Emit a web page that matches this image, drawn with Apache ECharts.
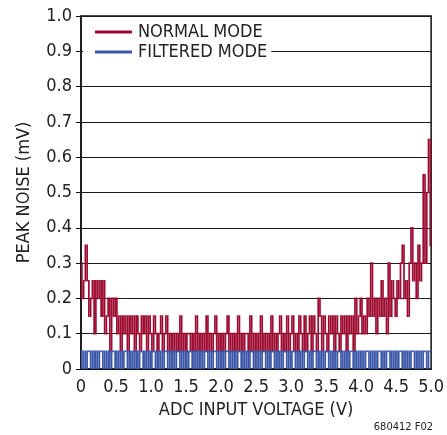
<!DOCTYPE html>
<html>
<head>
<meta charset="utf-8">
<script src="https://cdn.jsdelivr.net/npm/echarts@6/dist/echarts.min.js"></script>
<style>
  html, body { margin: 0; padding: 0; background: #fff; }
  #chart { width: 447px; height: 435px; }
</style>
</head>
<body>
<div id="chart"></div>
<script>
// sweep: 0 to 5 V, one reading every 0.025 V
const stepV = 0.025;

// peak noise, normal mode (mV)
const normalMode = [
  0.3, 0.2, 0.25, 0.35, 0.25, 0.15, 0.2, 0.25, 0.1, 0.25,
  0.2, 0.25, 0.15, 0.25, 0.1, 0.15, 0.2, 0.05, 0.2, 0.15,
  0.2, 0.1, 0.15, 0.05, 0.15, 0.1, 0.15, 0.05, 0.15, 0.1,
  0.15, 0.05, 0.15, 0.1, 0.05, 0.15, 0.1, 0.15, 0.05, 0.15,
  0.1, 0.05, 0.15, 0.1, 0.05, 0.1, 0.15, 0.05, 0.1, 0.15,
  0.05, 0.1, 0.05, 0.1, 0.05, 0.1, 0.05, 0.15, 0.05, 0.1,
  0.05, 0.1, 0.1, 0.05, 0.1, 0.05, 0.15, 0.05, 0.1, 0.05,
  0.1, 0.05, 0.15, 0.05, 0.1, 0.05, 0.1, 0.15, 0.05, 0.1,
  0.05, 0.1, 0.05, 0.1, 0.15, 0.05, 0.1, 0.05, 0.1, 0.05,
  0.15, 0.05, 0.1, 0.05, 0.1, 0.1, 0.05, 0.15, 0.05, 0.1,
  0.05, 0.1, 0.05, 0.15, 0.05, 0.1, 0.05, 0.1, 0.05, 0.15,
  0.05, 0.1, 0.05, 0.1, 0.15, 0.05, 0.1, 0.05, 0.15, 0.05,
  0.1, 0.15, 0.05, 0.1, 0.05, 0.15, 0.1, 0.05, 0.15, 0.05,
  0.1, 0.15, 0.05, 0.15, 0.1, 0.05, 0.2, 0.15, 0.05, 0.15,
  0.1, 0.05, 0.15, 0.1, 0.15, 0.05, 0.15, 0.1, 0.05, 0.15,
  0.1, 0.15, 0.05, 0.15, 0.1, 0.15, 0.05, 0.2, 0.1, 0.15,
  0.2, 0.1, 0.15, 0.1, 0.2, 0.15, 0.3, 0.15, 0.2, 0.1,
  0.2, 0.15, 0.25, 0.15, 0.2, 0.1, 0.3, 0.15, 0.25, 0.2,
  0.15, 0.25, 0.2, 0.3, 0.35, 0.2, 0.25, 0.15, 0.3, 0.4,
  0.25, 0.3, 0.2, 0.35, 0.25, 0.3, 0.55, 0.3, 0.5, 0.65,
  0.35
];

// peak noise, filtered mode (mV)
const filteredMode = [
  0.05, 0, 0.05, 0, 0.05, 0.05, 0, 0.05, 0, 0.05, 0, 0.05, 0.05, 0, 0.05, 0, 0.05, 0, 0.05, 0.05,
  0, 0.05, 0, 0.05, 0, 0.05, 0.05, 0, 0.05, 0, 0.05, 0, 0.05, 0, 0.05, 0.05, 0, 0.05, 0, 0.05,
  0, 0.05, 0.05, 0, 0.05, 0, 0.05, 0, 0.05, 0.05, 0, 0.05, 0, 0.05, 0, 0.05, 0.05, 0, 0.05, 0,
  0.05, 0, 0.05, 0.05, 0, 0.05, 0, 0.05, 0, 0.05, 0, 0.05, 0.05, 0, 0.05, 0, 0.05, 0.05, 0, 0.05,
  0, 0.05, 0, 0.05, 0.05, 0, 0.05, 0, 0.05, 0, 0.05, 0.05, 0, 0.05, 0, 0.05, 0, 0.05, 0.05, 0,
  0.05, 0, 0.05, 0, 0.05, 0.05, 0, 0.05, 0, 0.05, 0.05, 0, 0.05, 0, 0.05, 0, 0.05, 0.05, 0, 0.05,
  0, 0.05, 0.05, 0, 0.05, 0, 0.05, 0, 0.05, 0.05, 0, 0.05, 0, 0.05, 0.05, 0, 0.05, 0, 0.05, 0,
  0.05, 0.05, 0, 0.05, 0, 0.05, 0, 0.05, 0.05, 0, 0.05, 0, 0.05, 0, 0.05, 0.05, 0, 0.05, 0, 0.05,
  0, 0.05, 0, 0.05, 0.05, 0, 0.05, 0, 0.05, 0, 0.05, 0.05, 0, 0.05, 0, 0.05, 0.05, 0, 0.05, 0,
  0.05, 0, 0.05, 0.05, 0, 0.05, 0, 0.05, 0, 0.05, 0.05, 0, 0.05, 0, 0.05, 0, 0.05, 0.05, 0, 0.05,
  0.05
];

const seriesNames = ['NORMAL MODE', 'FILTERED MODE'];
const colors = ['#9e0b30', '#3a56a8'];

const font = "'Liberation Sans Narrow', 'DejaVu Sans Condensed', sans-serif";

// each point carries the previous reading so a segment can be drawn per item
function toPoints(vals) {
  return vals.map((v, i) => [i * stepV, v, i > 0 ? vals[i - 1] : v]);
}

function tickLabel(v) {
  return v === 0 ? '0' : v.toFixed(1);
}

// the trace is drawn piece by piece: a step from the last reading to this one
function traceItem(color) {
  return function (params, api) {
    const x = api.value(0);
    const p0 = api.coord([x - stepV, api.value(2)]);
    const p1 = api.coord([x, api.value(1)]);
    const xm = (p0[0] + p1[0]) / 2;
    return {
      type: 'polyline',
      shape: { points: [[p0[0], p0[1]], [xm, p0[1]], [xm, p1[1]], [p1[0], p1[1]]] },
      style: { stroke: color, lineWidth: 1.7, fill: null }
    };
  };
}

const chart = echarts.init(document.getElementById('chart'));

const option = {
  animation: false,
  backgroundColor: '#fff',
  grid: {
    left: 81, right: 14, top: 16, bottom: 66,
    show: true, borderColor: '#111', borderWidth: 1.5
  },
  legend: {
    orient: 'vertical',
    left: 83, top: 19,
    backgroundColor: '#fff',
    padding: [3, 4, 6, 12],
    itemGap: 0,
    icon: 'rect',
    itemWidth: 37, itemHeight: 3,
    textStyle: { fontFamily: font, fontSize: 18, color: '#222', lineHeight: 20, padding: [0, 0, 0, 1] },
    data: seriesNames
  },
  xAxis: {
    type: 'value',
    min: 0, max: 5, interval: 0.5,
    name: 'ADC INPUT VOLTAGE (V)',
    nameLocation: 'middle',
    nameGap: 32,
    nameTextStyle: { fontFamily: font, fontSize: 18, color: '#222', verticalAlign: 'top' },
    axisLine: { show: true, lineStyle: { color: '#111', width: 1.5 } },
    axisTick: { show: false },
    splitLine: { show: false },
    axisLabel: { formatter: tickLabel, fontFamily: font, fontSize: 18, color: '#222', margin: 9 }
  },
  yAxis: {
    type: 'value',
    min: 0, max: 1, interval: 0.1,
    name: 'PEAK NOISE (mV)',
    nameLocation: 'middle',
    nameGap: 48,
    nameTextStyle: { fontFamily: font, fontSize: 18, color: '#222' },
    axisLine: { show: true, lineStyle: { color: '#111', width: 1.5 } },
    axisTick: { show: true, length: 5, lineStyle: { color: '#111', width: 1 } },
    splitLine: { show: true, lineStyle: { color: '#1a1a1a', width: 1.2 } },
    axisLabel: { formatter: tickLabel, fontFamily: font, fontSize: 18, color: '#222', margin: 9 }
  },
  graphic: [{
    type: 'text',
    right: 14, bottom: 2,
    style: { text: '680412 F02', fontFamily: font, fontSize: 11, fill: '#222' }
  }],
  series: [
    {
      name: seriesNames[0],
      type: 'custom',
      clip: true,
      data: toPoints(normalMode),
      encode: { x: 0, y: 1 },
      itemStyle: { color: colors[0] },
      renderItem: traceItem(colors[0])
    },
    {
      name: seriesNames[1],
      type: 'custom',
      clip: true,
      data: toPoints(filteredMode),
      encode: { x: 0, y: 1 },
      itemStyle: { color: colors[1] },
      renderItem: traceItem(colors[1])
    }
  ]
};

chart.setOption(option);
</script>
</body>
</html>
